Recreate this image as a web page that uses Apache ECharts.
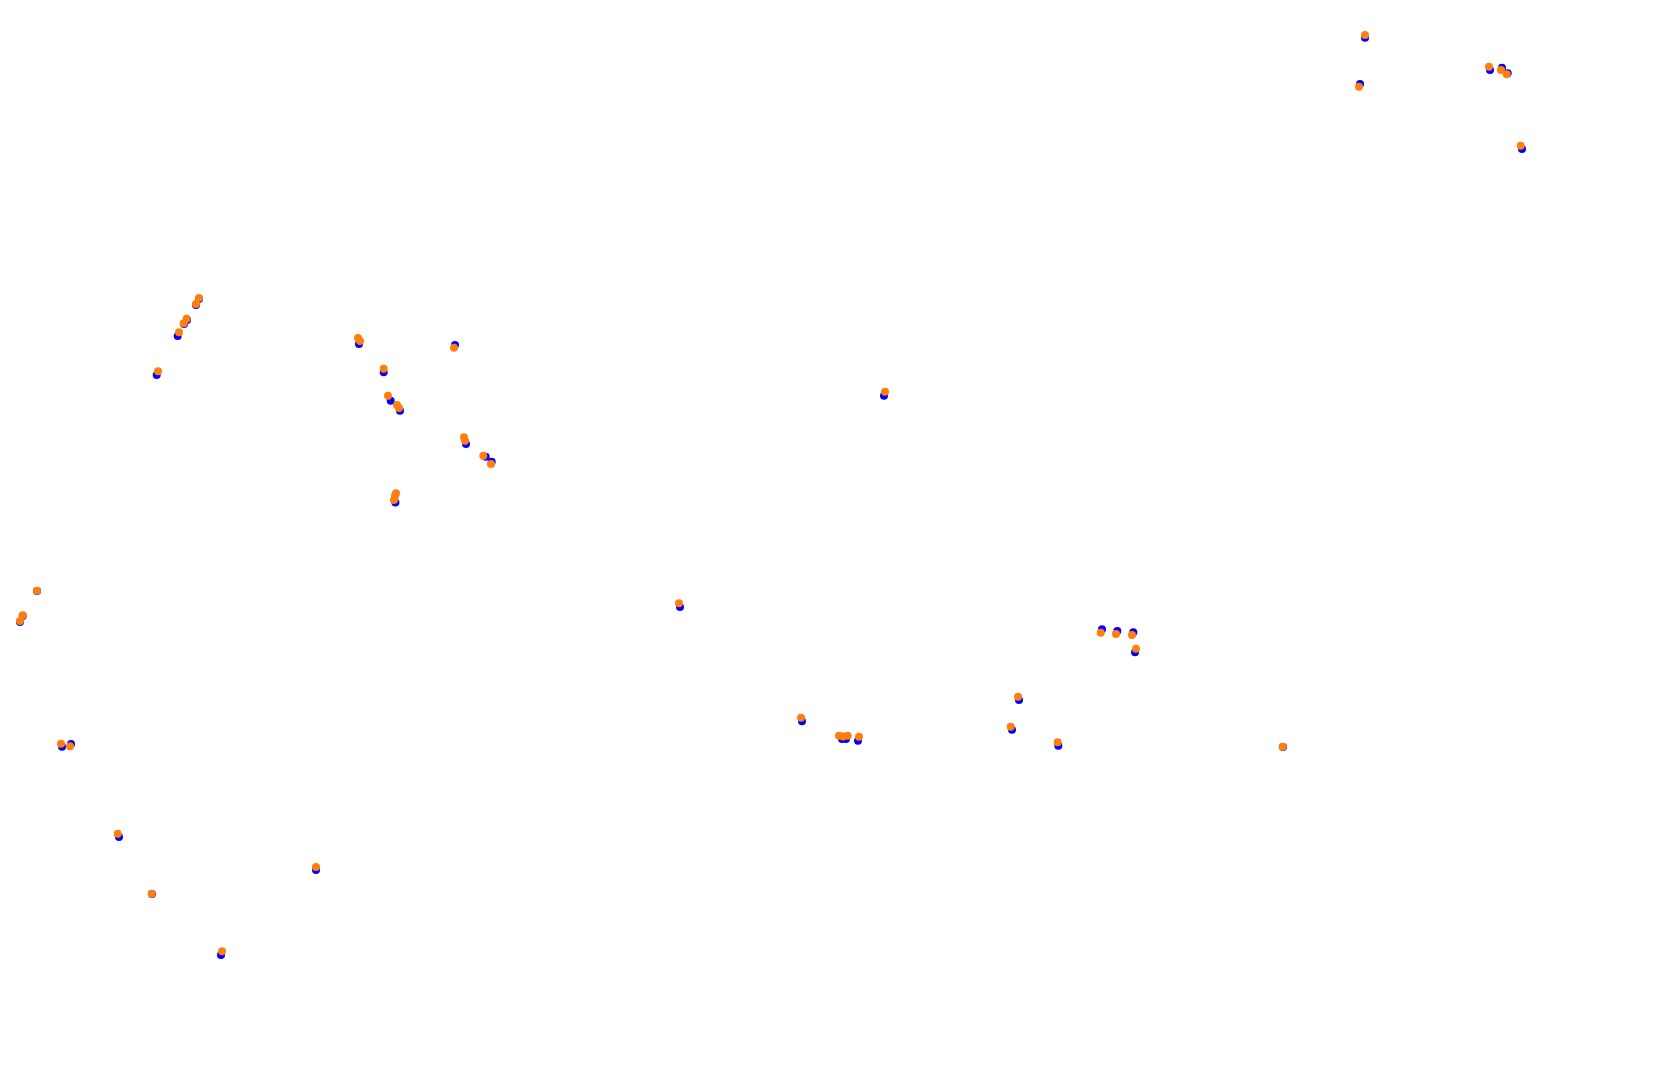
<!DOCTYPE html>
<html><head><meta charset="utf-8">
<script src="https://cdn.jsdelivr.net/npm/echarts@6/dist/echarts.min.js"></script>
<style>html,body{margin:0;padding:0;background:#fff}#c{width:1680px;height:1085px}</style>
</head><body><div id="c"></div>
<script>
const bluePoints = [
 [1365,37.7],[1360,84],[1490,70],[1502,67.7],[1507.7,73.3],[1522,149],
 [156.7,375],[177.7,336],[199,299],[196,305],[187,320],[184,324],
 [359,344],[455,345],[383.7,372.3],[390.7,400.7],[400,410.7],[466,444],[485.7,456.7],[491.7,461.7],[395.4,502.5],
 [37,591],[22.7,616],[20,622],
 [62,746.7],[71,744],
 [802,721.3],[842,739],[846,739],[858,740.7],
 [1102,629.3],[1117.3,631],[1133.3,632.3],[1135,652.3],
 [119,837],[152,894],[316,870],[221,955],
 [1019,700],[1012,729.7],[1058.3,745.7],[1283,747],
 [884,395.7],[680,607]
];
const orangePoints = [
 [1365,35],[1359,86.7],[1489,66.7],[1501,70],[1506.7,74.3],[1520.7,145.7],
 [199,298],[196,304],[186.7,318.7],[183.7,323.3],[179,332.3],[158,371.3],
 [358,338],[360,341],[454,347.7],[383.7,368.7],[388,395.7],[397,405],[399,408],[464,437.3],[465,440.7],[483.3,455.7],[491,464],[396,493.3],[395,496],[394,500],
 [37,590.7],[22.7,615.3],[20,621],
 [61,743.7],[70,746.3],
 [801,717.7],[839,735.7],[843,736.5],[847.7,735.7],[859,736.7],
 [1100.7,632.7],[1116,634],[1132,635],[1136,648.7],
 [117.7,833.7],[151.7,893.7],[316,867],[222,951.3],
 [1018,696.7],[1010.7,726.7],[1057.7,742.3],[1282.7,746.7],
 [885,391.7],[679,603.3]
];
const chart = echarts.init(document.getElementById('c'), null, {renderer:'canvas'});
chart.setOption({
  animation:false,
  backgroundColor:'#ffffff',
  grid:{left:0,right:0,top:0,bottom:0},
  xAxis:{type:'value',min:0,max:1680,show:false},
  yAxis:{type:'value',min:0,max:1085,inverse:true,show:false},
  series:[
    {type:'scatter',data:bluePoints,symbolSize:8,itemStyle:{color:'#0000ff',opacity:1},z:2},
    {type:'scatter',data:orangePoints,symbolSize:8,itemStyle:{color:'#ff7f0e',opacity:1},z:3}
  ]
});
</script></body></html>
